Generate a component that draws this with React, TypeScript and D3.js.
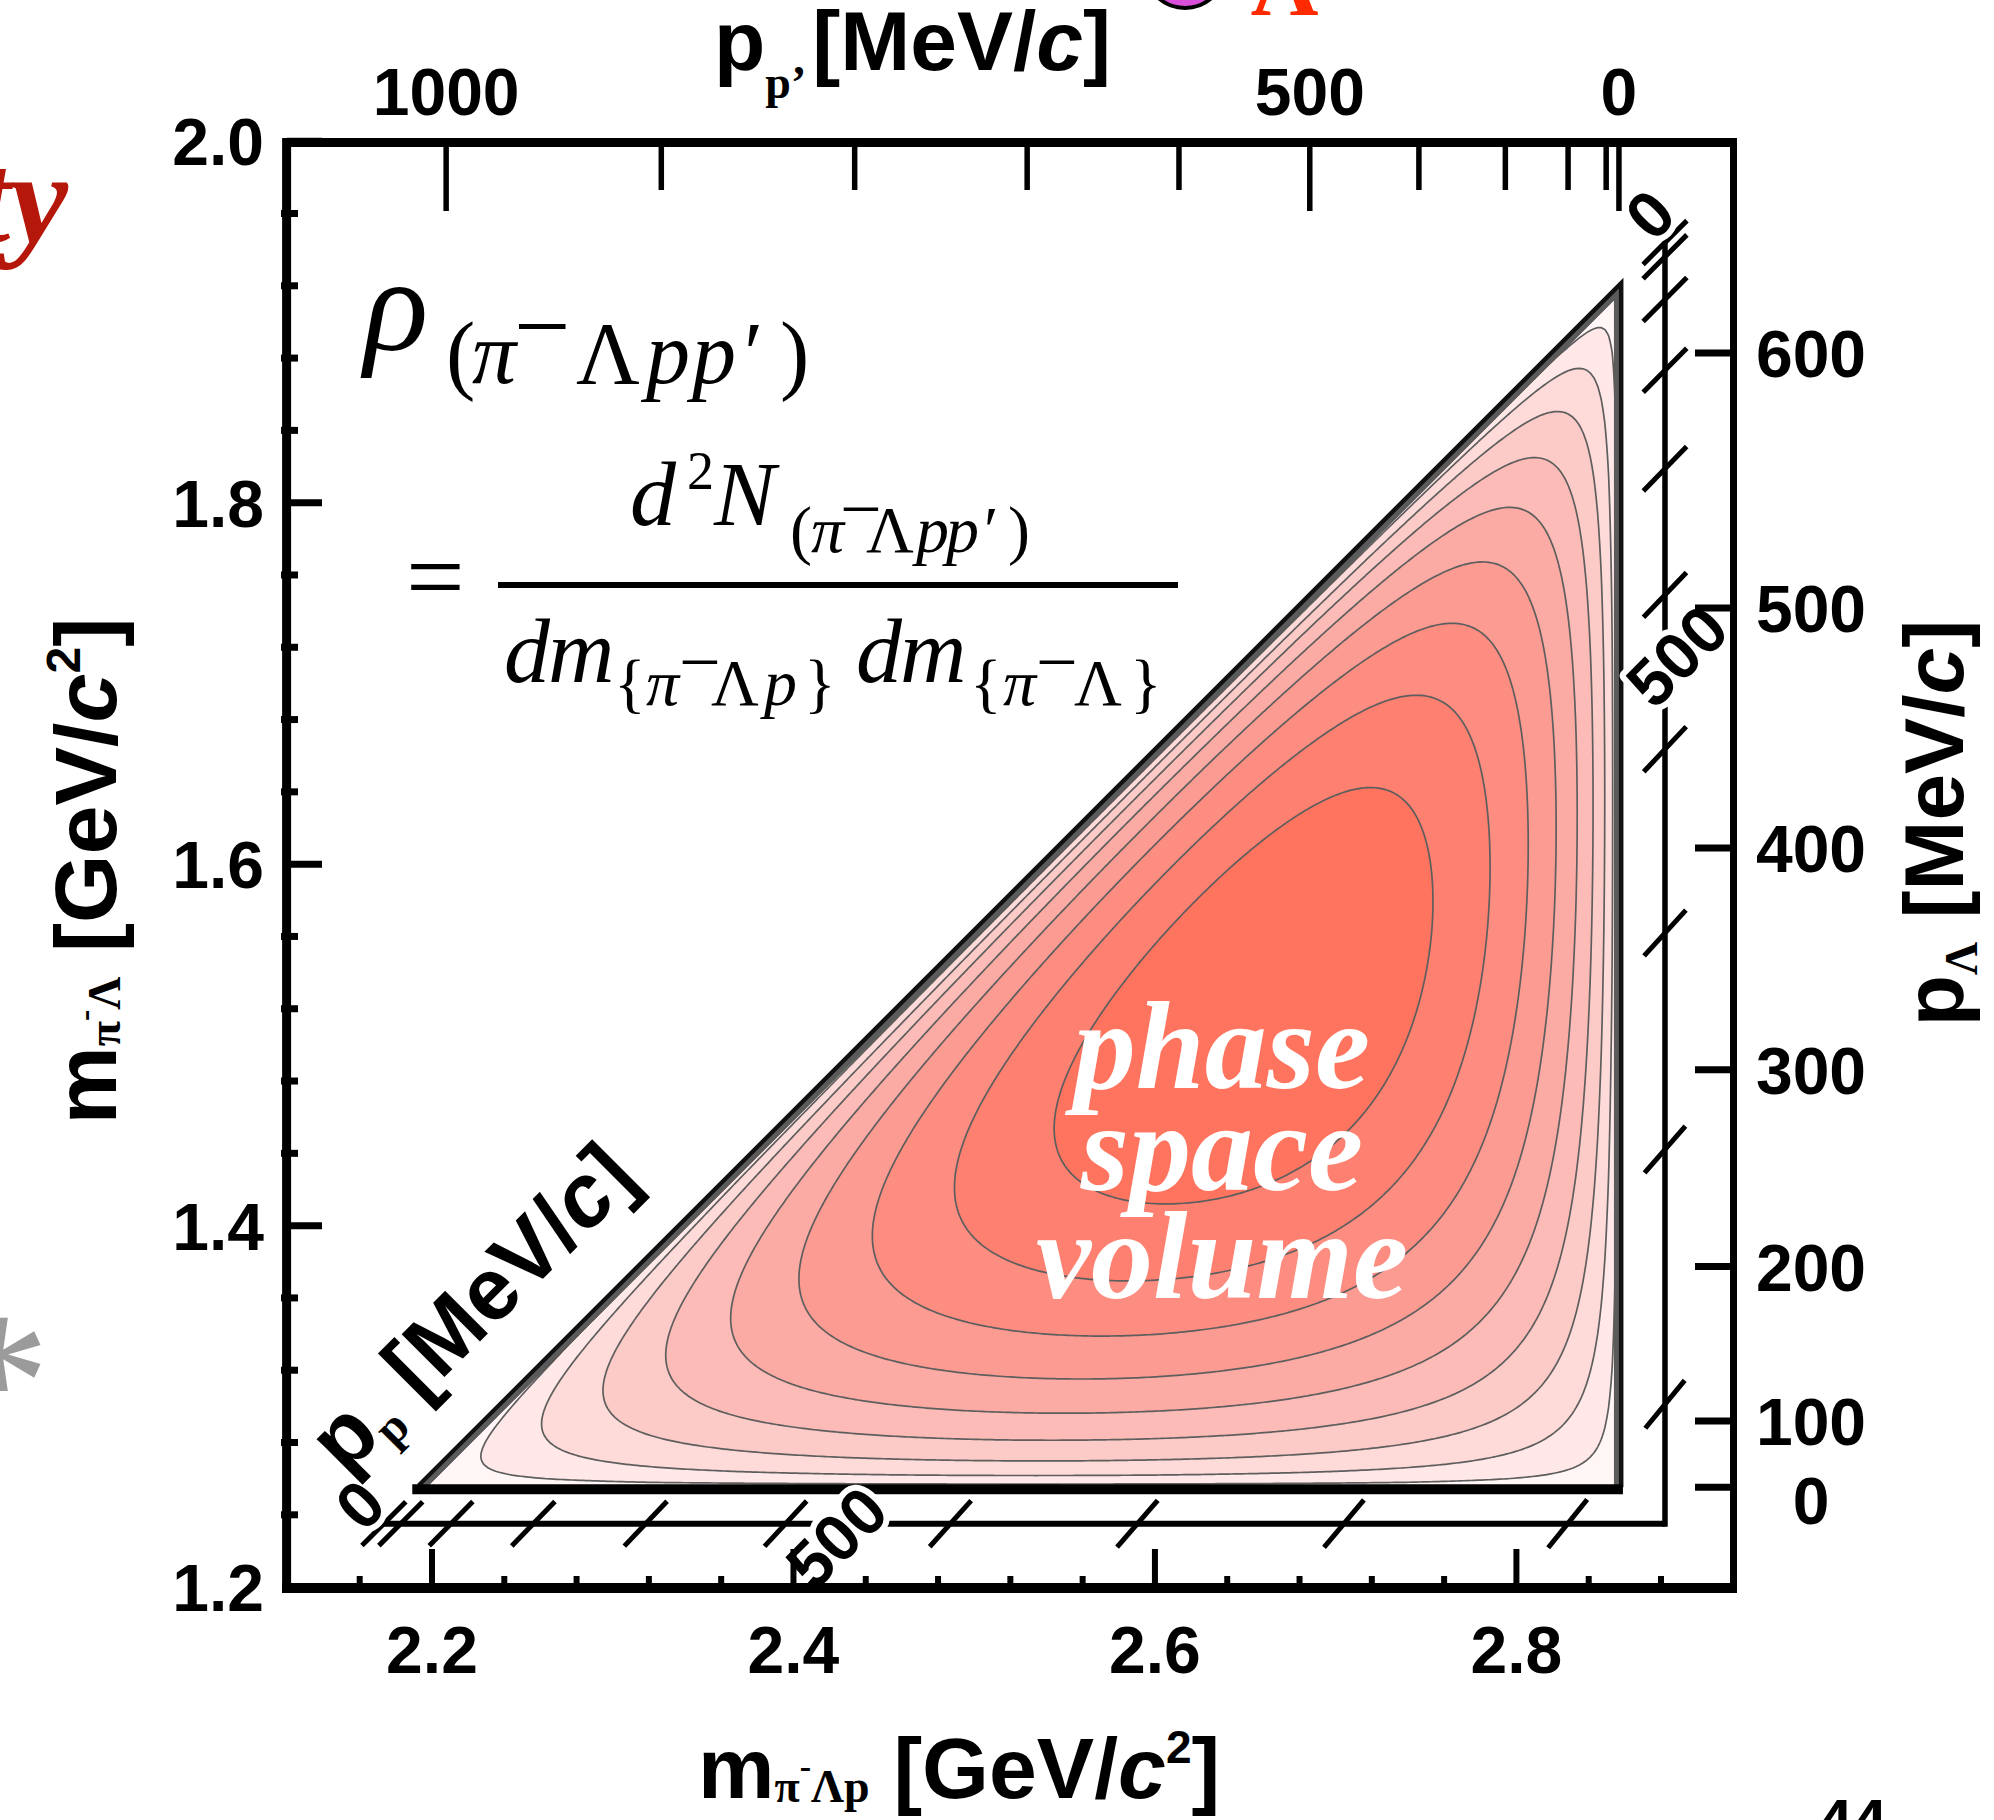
import React, { useMemo } from "react";
import * as d3 from "d3";

const W = 1994;
const H = 1820;

// particle masses [GeV/c^2]
const M_PI = 0.13957;
const M_LAMBDA = 1.115683;
const M_P = 0.938272;
// total mass of the pi- Lambda p p' system (read from triangle corners)
const M_TOTAL = 3.795;

const X_DOMAIN = [2.12, 2.92];
const Y_DOMAIN = [1.2, 2.0];
const X_MAJOR_TICKS = [2.2, 2.4, 2.6, 2.8];
const X_MINOR_TICKS = [2.16, 2.24, 2.28, 2.32, 2.36, 2.44, 2.48, 2.52, 2.56, 2.64, 2.68, 2.72, 2.76, 2.84, 2.88];
const Y_MAJOR_TICKS = [1.2, 1.4, 1.6, 1.8, 2.0];
const Y_MINOR_TICKS = [1.24, 1.28, 1.32, 1.36, 1.44, 1.48, 1.52, 1.56, 1.64, 1.68, 1.72, 1.76, 1.84, 1.88, 1.92, 1.96];
const PPRIME_TICKS = [0, 100, 200, 300, 400, 500, 600, 700, 800, 900, 1000];
const PPRIME_MAJOR = [0, 500, 1000];
const PLAMBDA_TICKS = [0, 100, 200, 300, 400, 500, 600];
const PP_TICKS = [0, 100, 200, 300, 400, 500, 600, 700, 800, 900];
const PP_LABELS = [0, 500];
const INNER_AXIS_M12 = 1.2351;
const INNER_AXIS_M123 = 2.8822;
const CONTOUR_FRACTIONS = [0.1, 0.2, 0.3, 0.4, 0.5, 0.6, 0.7, 0.8, 0.9];
const BAND_COLORS = [
  "#fff6f5", "#ffe8e7", "#fedad8", "#fdcbc7", "#fcbbb6",
  "#fcaba4", "#fc9b92", "#fd8d81", "#fe8070", "#ff745e",
];

const SANS = "'Liberation Sans', Arial, Helvetica, sans-serif";
const SERIF = "'Liberation Serif', 'Times New Roman', serif";

function p2(M: number, a: number, b: number) {
  return ((M * M - (a + b) ** 2) * (M * M - (a - b) ** 2)) / (4 * M * M);
}
function pmom(M: number, a: number, b: number) {
  return Math.sqrt(Math.max(0, p2(M, a, b)));
}
function rho(m123: number, m12: number) {
  if (m12 < M_LAMBDA + M_PI || m123 < m12 + M_P || m123 > M_TOTAL - M_P) return 0;
  return pmom(M_TOTAL, m123, M_P) * pmom(m123, m12, M_P) * pmom(m12, M_LAMBDA, M_PI);
}
function solve(f: (v: number) => number, lo: number, hi: number, target: number) {
  const inc = f(hi) > f(lo);
  for (let i = 0; i < 80; i++) {
    const mid = (lo + hi) / 2;
    const fm = f(mid);
    if ((fm < target) === inc) lo = mid;
    else hi = mid;
  }
  return (lo + hi) / 2;
}

export default function App() {
  const xs = d3.scaleLinear().domain(X_DOMAIN).range([287.4, 1733.3]);
  const ys = d3.scaleLinear().domain(Y_DOMAIN).range([1587.1, 141.2]);

  const m12Min = M_LAMBDA + M_PI;
  const m123Min = m12Min + M_P;
  const m123Max = M_TOTAL - M_P;
  const m12Max = m123Max - M_P;

  const vL = [xs(m123Min), ys(m12Min)];
  const vR = [xs(m123Max), ys(m12Min)];
  const vT = [xs(m123Max), ys(m12Max)];
  const triPath = `M${vL[0]},${vL[1]}L${vR[0]},${vR[1]}L${vT[0]},${vT[1]}Z`;

  const contourData = useMemo(() => {
    const nx = 340, ny = 340;
    const lo1 = 2.185, hi1 = 2.865, lo2 = 1.25, hi2 = 1.925;
    const sx = (hi1 - lo1) / (nx - 1);
    const sy = (hi2 - lo2) / (ny - 1);
    const values: number[] = new Array(nx * ny);
    for (let j = 0; j < ny; j++)
      for (let i = 0; i < nx; i++) values[j * nx + i] = rho(lo1 + i * sx, lo2 + j * sy);
    const maxV = d3.max(values) as number;
    const thresholds = CONTOUR_FRACTIONS.map((f) => f * maxV);
    const cs = d3.contours().size([nx, ny]).thresholds(thresholds)(values);
    const proj = d3.geoTransform({
      point: function (px: number, py: number) {
        (this as any).stream.point(xs(lo1 + (px - 0.5) * sx), ys(lo2 + (py - 0.5) * sy));
      },
    });
    const path = d3.geoPath(proj as any);
    return cs.map((c) => path(c as any) || "");
  }, []);

  // top axis p_p' -> m123
  const topTicks = PPRIME_TICKS.map((p) => ({
    p,
    x: xs(solve((m) => pmom(M_TOTAL, m, M_P) * 1000, 2.0, m123Max, p)),
    major: PPRIME_MAJOR.includes(p),
  }));
  // right axis p_Lambda -> m12
  const rightTicks = PLAMBDA_TICKS.map((p) => ({
    p,
    y: ys(solve((m) => pmom(m, M_LAMBDA, M_PI) * 1000, m12Min, 2.0, p)),
  }));

  // inner p_p axes
  const f2 = (M: number, a: number) => p2(M, a, M_P);
  const kx = (xs(2.92) - xs(2.12)) / 0.8;
  const ky = (ys(1.2) - ys(2.0)) / 0.8;
  function tangent(M: number, a: number) {
    const h = 1e-5;
    const dM = (f2(M + h, a) - f2(M - h, a)) / (2 * h);
    const da = (f2(M, a + h) - f2(M, a - h)) / (2 * h);
    const gx = dM / kx;
    const gy = -da / ky;
    const n = Math.hypot(gx, gy);
    let tx = -gy / n, ty = gx / n;
    if (ty < 0) { tx = -tx; ty = -ty; }
    return [tx, ty];
  }
  const bottomY = ys(INNER_AXIS_M12);
  const rightX = xs(INNER_AXIS_M123);
  const bottomInner = PP_TICKS.map((p) => {
    const M = solve((m) => pmom(m, INNER_AXIS_M12, M_P) * 1000, INNER_AXIS_M12 + M_P, 3.0, p);
    return { p, x: xs(M), y: bottomY, t: tangent(M, INNER_AXIS_M12) };
  });
  const rightInner = PP_TICKS.map((p) => {
    const a = solve((v) => pmom(INNER_AXIS_M123, v, M_P) * 1000, 1.1, INNER_AXIS_M123 - M_P, p);
    return { p, x: rightX, y: ys(a), t: tangent(INNER_AXIS_M123, a) };
  });
  const TL = 31;

  const b0 = bottomInner[0];
  const b500 = bottomInner.find((d) => d.p === 500)!;
  const r0 = rightInner[0];
  const r500 = rightInner.find((d) => d.p === 500)!;

  return (
    <svg width={W} height={H} viewBox={`0 0 ${W} ${H}`}
      style={{ position: "absolute", left: 0, top: 0, background: "#fff" }}>
      <defs>
        <clipPath id="tri"><path d={triPath} /></clipPath>
      </defs>
      <rect x={0} y={0} width={W} height={H} fill="#fff" />

      {/* stray slide fragments */}
      <text x={68} y={242} textAnchor="end" fontFamily={SERIF} fontStyle="italic" fontWeight="bold" fontSize={130} fill="#b5170a">ty</text>
      <text x={50} y={1448} textAnchor="end" fontFamily={SERIF} fontSize={200} fill="#9b9b9b">*</text>
      <text x={1818} y={1842} fontFamily={SANS} fontWeight="bold" fontSize={62} fill="#000">44</text>
      <circle cx={1185} cy={-32} r={40} fill="#d94fd9" stroke="#000" strokeWidth={4} />
      <text x={1251} y={15} fontFamily={SERIF} fontWeight="bold" fontSize={94} fill="#ff2a00">Λ</text>

      {/* density contours */}
      <path d={triPath} fill={BAND_COLORS[0]} />
      <g clipPath="url(#tri)">
        {contourData.map((d, k) => (
          <path key={k} d={d} fill={BAND_COLORS[k + 1]} stroke="#5e5e5e" strokeWidth={1.7} />
        ))}
      </g>
      {/* triangle edges */}
      <path d={`M${vL[0]},${vL[1]}L${vT[0]},${vT[1]}L${vR[0]},${vR[1]}`} fill="none" stroke="#111" strokeWidth={9} strokeLinejoin="miter" />
      <path d={`M${vL[0] + 4},${vL[1] - 1}L${vT[0] - 2.5},${vT[1] + 6}L${vR[0] - 2.5},${vR[1]}`} fill="none" stroke="#5b5b5b" strokeWidth={5} />
      <line x1={vL[0] - 8} x2={vR[0] + 4} y1={vL[1] + 2} y2={vR[1] + 2} stroke="#000" strokeWidth={10} />

      {/* phase space label */}
      <g fontFamily={SERIF} fontStyle="italic" fontWeight="bold" fontSize={124} fill="#fff" textAnchor="middle">
        <text x={1222} y={1088}>phase</text>
        <text x={1222} y={1190}>space</text>
        <text x={1222} y={1298}>volume</text>
      </g>

      {/* inner p_p axes */}
      <line x1={b0.x} x2={rightX} y1={bottomY} y2={bottomY} stroke="#000" strokeWidth={6} />
      <line x1={rightX} x2={rightX} y1={r0.y} y2={bottomY + 3} stroke="#000" strokeWidth={5.5} />
      {bottomInner.map((d) => (
        <line key={"bi" + d.p} x1={d.x - d.t[0] * TL} y1={d.y - d.t[1] * TL} x2={d.x + d.t[0] * TL} y2={d.y + d.t[1] * TL} stroke="#000" strokeWidth={5} />
      ))}
      {rightInner.map((d) => (
        <line key={"ri" + d.p} x1={d.x - d.t[0] * TL} y1={d.y - d.t[1] * TL} x2={d.x + d.t[0] * TL} y2={d.y + d.t[1] * TL} stroke="#000" strokeWidth={5} />
      ))}
      <g fontFamily={SANS} fontWeight="bold" fontSize={66} fill="#000" textAnchor="middle" dominantBaseline="central"
        stroke="#fff" strokeWidth={12} paintOrder="stroke" strokeLinejoin="round">
        <text transform={`translate(${b0.x - 24},${b0.y - 19}) rotate(-45)`}>{PP_LABELS[0]}</text>
        <text transform={`translate(${b500.x + 51},${b500.y + 14}) rotate(-45)`}>{PP_LABELS[1]}</text>
        <text transform={`translate(${r0.x - 15},${r0.y - 28}) rotate(-45)`}>{PP_LABELS[0]}</text>
        <text transform={`translate(${r500.x + 12},${r500.y + 61}) rotate(-45)`}>{PP_LABELS[1]}</text>
      </g>

      {/* frame */}
      <line x1={283} x2={1737} y1={142.5} y2={142.5} stroke="#000" strokeWidth={9} />
      <line x1={286.6} x2={286.6} y1={138} y2={1593} stroke="#000" strokeWidth={9} />
      <line x1={282} x2={1737} y1={1588} y2={1588} stroke="#000" strokeWidth={10} />
      <line x1={1733.5} x2={1733.5} y1={138} y2={1593} stroke="#000" strokeWidth={7} />

      {/* left ticks */}
      {Y_MAJOR_TICKS.map((v) => (
        <line key={"ym" + v} x1={287} x2={322} y1={ys(v)} y2={ys(v)} stroke="#000" strokeWidth={7} />
      ))}
      {Y_MINOR_TICKS.map((v) => (
        <line key={"yn" + v} x1={281} x2={298} y1={ys(v)} y2={ys(v)} stroke="#000" strokeWidth={7} />
      ))}
      {/* bottom ticks */}
      {X_MAJOR_TICKS.map((v) => (
        <line key={"xm" + v} x1={xs(v)} x2={xs(v)} y1={1588} y2={1549} stroke="#000" strokeWidth={6} />
      ))}
      {X_MINOR_TICKS.map((v) => (
        <line key={"xn" + v} x1={xs(v)} x2={xs(v)} y1={1593} y2={1576} stroke="#000" strokeWidth={6} />
      ))}
      {/* top ticks */}
      {topTicks.map((d) => (
        <line key={"tt" + d.p} x1={d.x} x2={d.x} y1={146} y2={d.major ? 211 : 190} stroke="#000" strokeWidth={5.5} />
      ))}
      {/* right ticks */}
      {rightTicks.map((d) => (
        <line key={"rt" + d.p} x1={1733} x2={1695} y1={d.y} y2={d.y} stroke="#000" strokeWidth={7} />
      ))}

      {/* tick labels */}
      <g fontFamily={SANS} fontWeight="bold" fontSize={66} fill="#000">
        {Y_MAJOR_TICKS.map((v) => (
          <text key={"yl" + v} x={264} y={ys(v) + 24} textAnchor="end">{v.toFixed(1)}</text>
        ))}
        {X_MAJOR_TICKS.map((v) => (
          <text key={"xl" + v} x={xs(v)} y={1673} textAnchor="middle">{v.toFixed(1)}</text>
        ))}
        {topTicks.filter((d) => d.major).map((d) => (
          <text key={"tl" + d.p} x={d.x} y={115} textAnchor="middle">{d.p}</text>
        ))}
        {rightTicks.map((d) => (
          <text key={"rl" + d.p} x={1811} y={d.y + 24 + (d.p === 0 ? 13 : 0)} textAnchor="middle">{d.p}</text>
        ))}
      </g>

      {/* axis titles */}
      <text x={698} y={1798} fontFamily={SANS} fontWeight="bold" fontSize={86} fill="#000">
        m
        <tspan fontFamily={SERIF} fontSize={46} dy={4}>π</tspan>
        <tspan fontFamily={SERIF} fontSize={34} dy={-24}>-</tspan>
        <tspan fontFamily={SERIF} fontSize={46} dy={24}>Λp</tspan>
        <tspan dy={-4}> [GeV/</tspan>
        <tspan fontStyle="italic">c</tspan>
        <tspan fontSize={46} dy={-35}>2</tspan>
        <tspan dy={35}>]</tspan>
      </text>
      <text transform="translate(116,871) rotate(-90)" textAnchor="middle" fontFamily={SANS} fontWeight="bold" fontSize={88} fill="#000">
        m
        <tspan fontFamily={SERIF} fontSize={46} dy={4}>π</tspan>
        <tspan fontFamily={SERIF} fontSize={34} dy={-24}>-</tspan>
        <tspan fontFamily={SERIF} fontSize={46} dy={24}>Λ</tspan>
        <tspan dy={-4}> [GeV/</tspan>
        <tspan fontStyle="italic">c</tspan>
        <tspan fontSize={48} dy={-36}>2</tspan>
        <tspan dy={36}>]</tspan>
      </text>
      <text transform="translate(1963,823) rotate(-90)" textAnchor="middle" fontFamily={SANS} fontWeight="bold" fontSize={84} fill="#000">
        p
        <tspan fontFamily={SERIF} fontSize={46} dy={14}>Λ</tspan>
        <tspan dy={-14}> [MeV/</tspan>
        <tspan fontStyle="italic">c</tspan>
        <tspan>]</tspan>
      </text>
      <text x={714} y={70} fontFamily={SANS} fontWeight="bold" fontSize={84} fill="#000">
        p
        <tspan fontFamily={SERIF} fontSize={46} dy={28}>p’</tspan>
        <tspan dx={6} dy={-28}>[MeV/</tspan>
        <tspan fontStyle="italic">c</tspan>
        <tspan>]</tspan>
      </text>
      <text transform={`translate(${vL[0] - 75},${vL[1] - 11}) rotate(-45)`} fontFamily={SANS} fontWeight="bold" fontSize={88} fill="#000">
        p
        <tspan fontFamily={SERIF} fontSize={48} dy={14}>p</tspan>
        <tspan dy={-14}> [MeV/</tspan>
        <tspan fontStyle="italic">c</tspan>
        <tspan>]</tspan>
      </text>

      {/* formula */}
      <g fontFamily={SERIF} fill="#000">
        <text x={364} y={350} fontSize={134} fontStyle="italic">ρ</text>
        <text y={383} fontSize={88}>
          <tspan x={446}>(</tspan>
          <tspan x={472} fontStyle="italic">π</tspan>
          <tspan x={514} y={360} fontSize={100}>−</tspan>
          <tspan x={576} y={383}>Λ</tspan>
          <tspan x={646} fontStyle="italic">p</tspan>
          <tspan x={692} fontStyle="italic">p</tspan>
          <tspan x={744}>′</tspan>
          <tspan x={780}>)</tspan>
        </text>

        <text y={525} fontSize={92}>
          <tspan x={630} fontStyle="italic">d</tspan>
          <tspan x={687} y={489} fontSize={54}>2</tspan>
          <tspan x={714} y={525} fontStyle="italic">N</tspan>
        </text>
        <text y={552} fontSize={66}>
          <tspan x={790}>(</tspan>
          <tspan x={811} fontStyle="italic">π</tspan>
          <tspan x={840} y={534} fontSize={74}>−</tspan>
          <tspan x={866} y={552}>Λ</tspan>
          <tspan x={916} fontStyle="italic">p</tspan>
          <tspan x={946} fontStyle="italic">p</tspan>
          <tspan x={984}>′</tspan>
          <tspan x={1008}>)</tspan>
        </text>

        <text x={406} y={612} fontSize={104}>=</text>
        <line x1={498} x2={1178} y1={585} y2={585} stroke="#000" strokeWidth={6} />

        <text y={682} fontSize={92} fontStyle="italic">
          <tspan x={504}>d</tspan>
          <tspan x={548}>m</tspan>
          <tspan x={856}>d</tspan>
          <tspan x={900}>m</tspan>
        </text>
        <text y={705} fontSize={66}>
          <tspan x={614}>{"{"}</tspan>
          <tspan x={646} fontStyle="italic">π</tspan>
          <tspan x={679} y={687} fontSize={74}>−</tspan>
          <tspan x={711} y={705}>Λ</tspan>
          <tspan x={764} fontStyle="italic">p</tspan>
          <tspan x={804}>{"}"}</tspan>
          <tspan x={970}>{"{"}</tspan>
          <tspan x={1003} fontStyle="italic">π</tspan>
          <tspan x={1036} y={687} fontSize={74}>−</tspan>
          <tspan x={1074} y={705}>Λ</tspan>
          <tspan x={1130}>{"}"}</tspan>
        </text>
      </g>
    </svg>
  );
}
